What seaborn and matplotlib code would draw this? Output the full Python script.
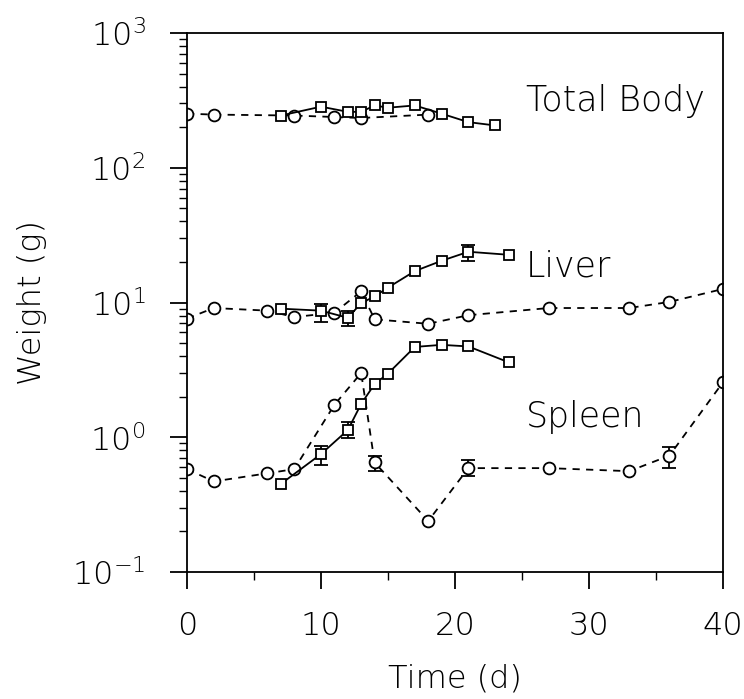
import numpy as np
import pandas as pd
import matplotlib
matplotlib.use("Agg")
import matplotlib.pyplot as plt
import seaborn as sns
from matplotlib.ticker import FixedLocator, LogLocator, NullFormatter

# ---------------- data ----------------
tb_c_day = [0, 2, 8, 11, 13, 18]
tb_c_w = [252, 248, 244, 238, 234, 248]
tb_s_day = [7, 10, 12, 13, 14, 15, 17, 19, 21, 23]
tb_s_w = [244, 284, 260, 260, 290, 279, 290, 252, 218, 206]

lv_c_day = [0, 2, 6, 8, 11, 13, 14, 18, 21, 27, 33, 36, 40]
lv_c_w = [7.6, 9.1, 8.7, 7.8, 8.4, 12.1, 7.5, 6.95, 8.05, 9.1, 9.1, 10.1, 12.6]
lv_s_day = [7, 10, 12, 13, 14, 15, 17, 19, 21, 24]
lv_s_w = [9.0, 8.7, 7.7, 9.9, 11.1, 12.9, 17.1, 20.4, 23.8, 22.6]

sp_c_day = [0, 2, 6, 8, 11, 13, 14, 18, 21, 27, 33, 36, 40]
sp_c_w = [0.58, 0.47, 0.54, 0.58, 1.74, 3.0, 0.65, 0.239, 0.59, 0.59, 0.56, 0.73, 2.56]
sp_s_day = [7, 10, 12, 13, 14, 15, 17, 19, 21, 24]
sp_s_w = [0.45, 0.75, 1.13, 1.77, 2.48, 2.97, 4.68, 4.85, 4.72, 3.6]

# error bars (low, high)
err_c_day = [14, 21, 36]
err_c_w = [0.65, 0.59, 0.73]
err_c_lo = [0.56, 0.52, 0.59]
err_c_hi = [0.73, 0.68, 0.84]
err_s_day = [10, 12, 10, 12, 21]
err_s_w = [0.75, 1.13, 8.7, 7.7, 23.8]
err_s_lo = [0.62, 0.99, 7.15, 6.7, 20.4]
err_s_hi = [0.86, 1.29, 9.8, 8.6, 26.6]

labels = ["Total Body", "Liver", "Spleen"]
label_x = [25.3, 25.3, 25.3]
label_y = [313, 18.5, 1.41]

xticks = [0, 10, 20, 30, 40]

# ---------------- plot ----------------
sns.set_style("ticks")
plt.rcParams['font.family'] = ['DejaVu Sans']
plt.rcParams['font.weight'] = 'light'
plt.rcParams['mathtext.default'] = 'regular'
plt.rcParams['text.color'] = 'black'
plt.rcParams['axes.labelcolor'] = 'black'
plt.rcParams['xtick.color'] = 'black'
plt.rcParams['ytick.color'] = 'black'
plt.rcParams['axes.labelweight'] = 'light'

fig = plt.figure(figsize=(7.44, 6.99), dpi=100)
ax = fig.add_axes([187/744, 1-572/699, (723-187)/744, (572-33)/699])

circ_kw = dict(color='black', marker='o', markersize=8.5, markerfacecolor='white',
               markeredgecolor='black', markeredgewidth=1.3, linewidth=1.3,
               dashes=(4, 3.5), ax=ax, legend=False)
sq_kw = dict(color='black', marker='s', markersize=7, markerfacecolor='white',
             markeredgecolor='black', markeredgewidth=1.3, linewidth=1.3,
             ax=ax, legend=False)

for d, w in [(tb_c_day, tb_c_w), (lv_c_day, lv_c_w), (sp_c_day, sp_c_w)]:
    df = pd.DataFrame({'day': d, 'w': w})
    sns.lineplot(data=df, x='day', y='w', sort=False, **circ_kw)
for d, w in [(tb_s_day, tb_s_w), (lv_s_day, lv_s_w), (sp_s_day, sp_s_w)]:
    df = pd.DataFrame({'day': d, 'w': w})
    sns.lineplot(data=df, x='day', y='w', sort=False, **sq_kw)

for d, w, lo, hi in [(err_c_day, err_c_w, err_c_lo, err_c_hi),
                     (err_s_day, err_s_w, err_s_lo, err_s_hi)]:
    w = np.array(w); lo = np.array(lo); hi = np.array(hi)
    ax.errorbar(d, w, yerr=[w - lo, hi - w], fmt='none', ecolor='black',
                elinewidth=1.3, capsize=5, capthick=1.3, zorder=1)

ax.set_yscale('log')
ax.set_xlim(0, 40)
ax.set_ylim(0.1, 1000)
ax.xaxis.set_major_locator(FixedLocator(xticks))
ax.xaxis.set_minor_locator(FixedLocator([5, 15, 25, 35]))
ax.yaxis.set_major_locator(LogLocator(base=10, numticks=10))
ax.yaxis.set_minor_locator(LogLocator(base=10, subs=np.arange(2, 10), numticks=20))
ax.yaxis.set_minor_formatter(NullFormatter())

ax.tick_params(axis='both', which='major', direction='out', length=12, width=1.3,
               labelsize=23, colors='black')
ax.tick_params(axis='x', which='major', pad=16)
ax.tick_params(axis='y', which='major', pad=18)
ax.tick_params(axis='both', which='minor', direction='out', length=6, width=1.0)
for s in ax.spines.values():
    s.set_linewidth(1.3)
    s.set_color('black')
    s.set_visible(True)
for lab in ax.get_xticklabels() + ax.get_yticklabels():
    lab.set_fontweight('light')

ax.set_xlabel('Time (d)', fontsize=23, fontweight='light')
ax.set_ylabel('Weight (g)', fontsize=23, fontweight='light')
ax.xaxis.set_label_coords(0.5, (572 - 664) / 539)
ax.yaxis.set_label_coords((47 - 187) / 536, 0.5)

for t, x, y in zip(labels, label_x, label_y):
    ax.text(x, y, t, fontsize=25, va='center', ha='left', fontweight='light')

fig.savefig('out.png', dpi=100, facecolor='white')
